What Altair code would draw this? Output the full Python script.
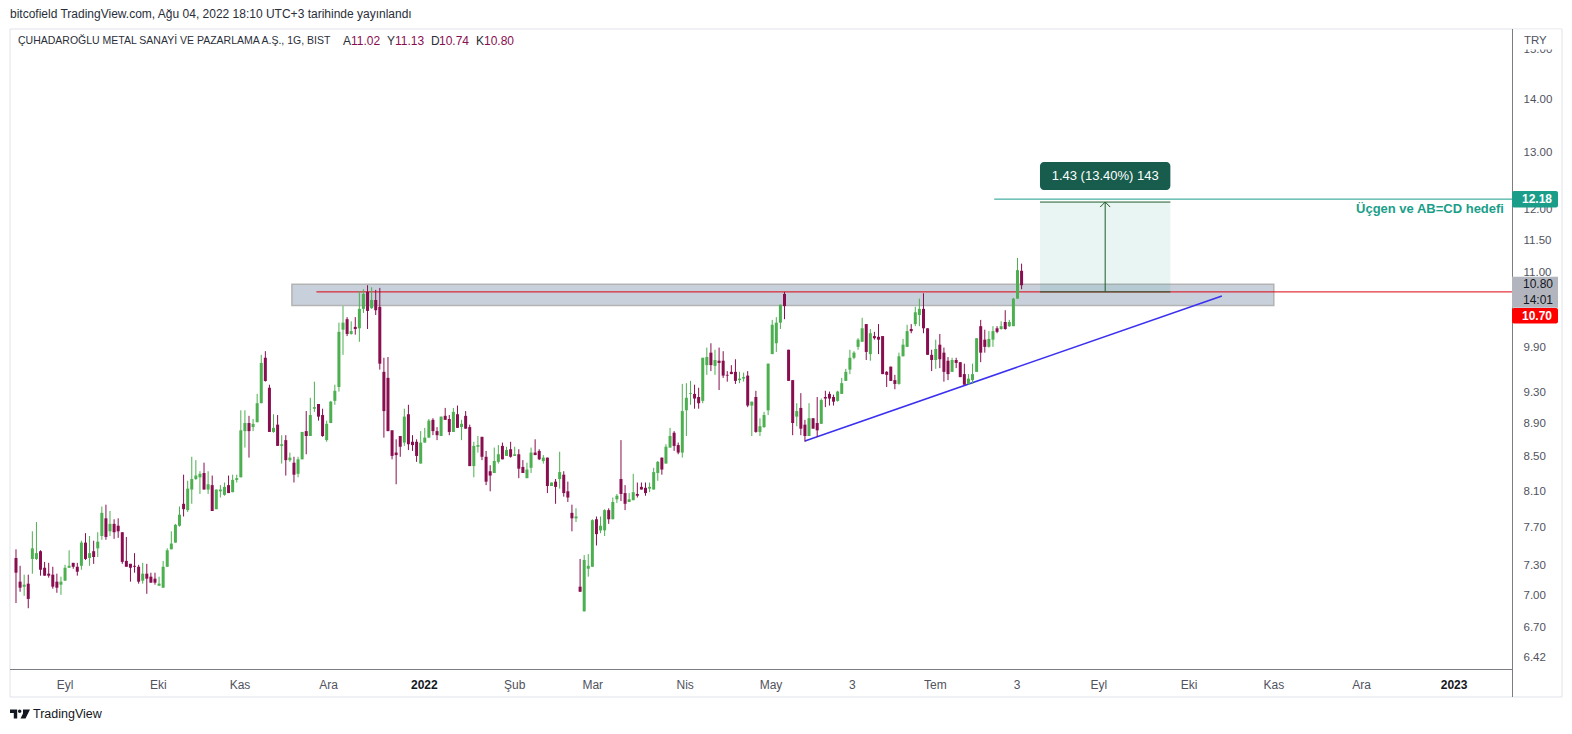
import altair as alt
import pandas as pd

# ---------------- data ----------------
opens = [7.38, 7.14, 7.09, 7.12, 7.37, 7.37, 7.45, 7.28, 7.22, 7.21,
         7.14, 7.11, 7.15, 7.28, 7.33, 7.29, 7.30, 7.54, 7.38, 7.45,
         7.48, 7.61, 7.80, 7.66, 7.74, 7.72, 7.65, 7.35, 7.32, 7.30,
         7.29, 7.15, 7.22, 7.19, 7.17, 7.10, 7.08, 7.29, 7.47, 7.54,
         7.72, 7.96, 7.89, 8.12, 8.24, 8.26, 8.31, 8.12, 8.17, 7.90,
         8.10, 8.06, 8.17, 8.09, 8.23, 8.26, 8.81, 8.91, 8.86, 8.92,
         9.16, 9.76, 9.36, 8.80, 8.89, 8.63, 8.70, 8.46, 8.43, 8.30,
         8.47, 8.81, 8.75, 9.09, 9.15, 9.01, 8.70, 8.91, 9.19, 9.37,
         10.15, 10.30, 10.09, 10.19, 10.17, 10.45, 10.70, 10.46, 10.58, 10.48,
         9.57, 9.49, 8.82, 8.55, 8.75, 8.67, 9.02, 8.68, 8.68, 8.42,
         8.67, 8.73, 8.95, 8.81, 8.75, 9.00, 8.96, 8.80, 9.02, 8.86,
         9.00, 8.86, 8.39, 8.62, 8.74, 8.50, 8.33, 8.31, 8.44, 8.63,
         8.51, 8.59, 8.51, 8.53, 8.38, 8.25, 8.37, 8.55, 8.57, 8.45,
         8.49, 8.16, 8.21, 8.24, 8.29, 8.10, 7.86, 7.80, 7.09, 6.85,
         7.27, 7.29, 7.79, 7.67, 7.67, 7.89, 7.79, 8.01, 8.24, 8.08,
         7.98, 8.00, 8.07, 8.15, 8.14, 8.13, 8.12, 8.31, 8.49, 8.42,
         8.61, 8.79, 8.64, 8.55, 9.07, 9.28, 9.28, 9.24, 9.19, 9.66,
         9.83, 9.65, 9.72, 9.72, 9.53, 9.57, 9.57, 9.46, 9.48, 9.52,
         9.13, 9.24, 8.80, 8.86, 9.07, 9.81, 9.96, 10.25, 10.67, 9.87,
         9.46, 8.99, 9.10, 8.89, 8.75, 8.97, 8.91, 8.90, 9.24, 9.28,
         9.24, 9.19, 9.28, 9.45, 9.60, 9.76, 9.91, 9.98, 10.23, 9.81,
         10.06, 10.05, 10.06, 9.57, 9.64, 9.46, 9.41, 9.78, 9.91, 10.16,
         10.23, 10.36, 10.45, 10.17, 9.80, 9.73, 9.94, 9.83, 9.72, 9.57,
         9.73, 9.70, 9.54, 9.41, 9.46, 9.57, 10.20, 10.01, 9.91, 10.01,
         10.17, 10.16, 10.26, 10.20, 10.20, 10.60, 11.02]

highs = [7.47, 7.30, 7.21, 7.21, 7.66, 7.76, 7.46, 7.34, 7.33, 7.29,
         7.22, 7.19, 7.31, 7.46, 7.33, 7.33, 7.56, 7.64, 7.61, 7.56,
         7.65, 7.93, 7.95, 7.88, 7.79, 7.80, 7.65, 7.60, 7.32, 7.43,
         7.31, 7.33, 7.32, 7.23, 7.23, 7.19, 7.35, 7.48, 7.66, 7.74,
         7.93, 8.29, 8.22, 8.50, 8.46, 8.33, 8.43, 8.33, 8.28, 8.12,
         8.17, 8.20, 8.28, 8.29, 8.29, 9.07, 9.07, 9.00, 8.96, 9.28,
         9.80, 9.85, 9.40, 9.02, 9.01, 8.76, 8.76, 8.55, 8.50, 8.50,
         8.80, 9.06, 9.23, 9.44, 9.15, 9.09, 8.94, 9.19, 9.40, 10.25,
         10.49, 10.33, 10.27, 10.33, 10.71, 10.74, 10.80, 10.77, 10.73, 10.76,
         9.76, 9.77, 8.82, 8.71, 8.75, 9.09, 9.14, 8.76, 8.71, 8.81,
         8.85, 8.96, 8.97, 8.86, 8.99, 9.10, 9.01, 9.10, 9.13, 8.95,
         9.06, 8.89, 8.68, 8.75, 8.74, 8.57, 8.40, 8.61, 8.64, 8.67,
         8.62, 8.68, 8.62, 8.59, 8.46, 8.43, 8.61, 8.71, 8.59, 8.52,
         8.49, 8.20, 8.24, 8.56, 8.33, 8.21, 7.95, 7.91, 7.37, 7.41,
         7.42, 7.79, 7.82, 7.82, 7.90, 7.91, 8.03, 8.07, 8.70, 8.17,
         8.08, 8.30, 8.20, 8.20, 8.20, 8.20, 8.37, 8.45, 8.49, 8.65,
         8.85, 8.81, 8.67, 9.41, 9.42, 9.45, 9.40, 9.36, 9.76, 9.90,
         9.96, 9.87, 9.90, 9.85, 9.58, 9.66, 9.74, 9.57, 9.56, 9.58,
         9.18, 9.32, 8.97, 9.05, 9.68, 10.29, 10.33, 10.51, 10.70, 9.87,
         9.46, 9.16, 9.29, 8.95, 9.16, 8.97, 9.24, 9.22, 9.32, 9.31,
         9.27, 9.32, 9.49, 9.61, 9.87, 9.85, 10.03, 10.32, 10.23, 10.16,
         10.12, 10.23, 10.06, 9.58, 9.64, 9.53, 9.83, 10.02, 10.22, 10.23,
         10.48, 10.60, 10.68, 10.17, 9.87, 10.01, 10.09, 9.90, 9.77, 9.76,
         9.76, 9.70, 9.68, 9.54, 9.68, 10.03, 10.29, 10.15, 10.13, 10.20,
         10.20, 10.27, 10.43, 10.29, 10.61, 11.22, 11.13]

lows = [6.93, 7.04, 7.00, 6.88, 7.22, 7.36, 7.20, 7.20, 7.18, 7.07,
        7.03, 7.01, 7.15, 7.28, 7.27, 7.20, 7.26, 7.36, 7.30, 7.32,
        7.39, 7.57, 7.57, 7.61, 7.58, 7.59, 7.32, 7.29, 7.14, 7.23,
        7.12, 7.12, 7.02, 7.13, 7.11, 7.10, 7.08, 7.29, 7.47, 7.54,
        7.71, 7.82, 7.87, 7.96, 8.23, 8.07, 8.12, 8.07, 7.88, 7.90,
        8.03, 8.05, 8.08, 8.09, 8.20, 8.26, 8.61, 8.49, 8.81, 8.92,
        9.16, 9.44, 8.80, 8.79, 8.63, 8.42, 8.28, 8.44, 8.20, 8.26,
        8.47, 8.53, 8.75, 9.05, 8.94, 8.74, 8.68, 8.91, 9.14, 9.31,
        9.80, 10.06, 10.08, 10.08, 9.98, 10.39, 10.16, 10.45, 10.36, 9.60,
        8.73, 8.81, 8.47, 8.18, 8.50, 8.63, 8.58, 8.57, 8.44, 8.42,
        8.67, 8.73, 8.76, 8.70, 8.75, 8.95, 8.76, 8.80, 8.85, 8.70,
        8.84, 8.39, 8.26, 8.55, 8.46, 8.17, 8.10, 8.31, 8.42, 8.47,
        8.51, 8.49, 8.51, 8.25, 8.31, 8.25, 8.31, 8.52, 8.46, 8.42,
        8.08, 8.16, 7.96, 8.13, 8.04, 7.98, 7.66, 7.76, 7.04, 6.85,
        7.19, 7.29, 7.51, 7.64, 7.61, 7.74, 7.79, 7.97, 7.99, 7.89,
        7.98, 8.00, 8.03, 8.12, 8.05, 8.09, 8.12, 8.22, 8.29, 8.42,
        8.61, 8.57, 8.53, 8.49, 8.75, 9.14, 9.09, 9.09, 9.16, 9.53,
        9.58, 9.53, 9.33, 9.49, 9.44, 9.54, 9.41, 9.42, 9.44, 9.11,
        8.75, 8.79, 8.75, 8.85, 9.01, 9.81, 9.84, 10.16, 10.30, 9.45,
        8.76, 8.87, 8.76, 8.68, 8.75, 8.84, 8.74, 8.90, 9.11, 9.13,
        9.13, 9.18, 9.28, 9.45, 9.54, 9.74, 9.87, 9.98, 9.73, 9.72,
        10.01, 9.81, 9.54, 9.37, 9.45, 9.34, 9.40, 9.78, 9.91, 10.10,
        10.20, 10.20, 10.10, 9.80, 9.58, 9.61, 9.62, 9.44, 9.46, 9.57,
        9.62, 9.50, 9.40, 9.40, 9.41, 9.57, 9.70, 9.83, 9.90, 9.91,
        10.10, 10.15, 10.15, 10.19, 10.20, 10.60, 10.74]

closes = [7.23, 7.08, 7.11, 6.97, 7.48, 7.43, 7.26, 7.20, 7.20, 7.09,
          7.08, 7.14, 7.28, 7.30, 7.29, 7.24, 7.54, 7.37, 7.43, 7.39,
          7.55, 7.86, 7.60, 7.74, 7.65, 7.66, 7.34, 7.29, 7.28, 7.29,
          7.14, 7.22, 7.17, 7.13, 7.13, 7.12, 7.29, 7.46, 7.53, 7.73,
          7.84, 7.90, 8.13, 8.24, 8.28, 8.30, 8.12, 8.18, 7.88, 8.12,
          8.12, 8.15, 8.08, 8.23, 8.25, 8.82, 8.91, 8.81, 8.90, 9.16,
          9.69, 9.45, 8.80, 8.85, 8.63, 8.65, 8.46, 8.49, 8.29, 8.47,
          8.80, 8.75, 9.01, 9.11, 8.99, 8.75, 8.90, 9.18, 9.32, 10.12,
          10.25, 10.09, 10.13, 10.16, 10.45, 10.67, 10.42, 10.58, 10.43, 9.68,
          9.06, 8.81, 8.51, 8.52, 8.62, 8.99, 8.65, 8.64, 8.51, 8.67,
          8.73, 8.94, 8.81, 8.76, 8.99, 8.95, 8.80, 9.05, 8.85, 8.90,
          8.84, 8.39, 8.63, 8.64, 8.50, 8.21, 8.28, 8.45, 8.53, 8.47,
          8.58, 8.50, 8.53, 8.36, 8.31, 8.35, 8.55, 8.52, 8.47, 8.49,
          8.16, 8.20, 8.15, 8.32, 8.08, 8.03, 7.80, 7.82, 7.04, 7.36,
          7.30, 7.78, 7.63, 7.72, 7.89, 7.79, 7.98, 8.05, 8.07, 7.96,
          8.01, 8.09, 8.05, 8.12, 8.08, 8.15, 8.32, 8.44, 8.35, 8.62,
          8.75, 8.63, 8.55, 9.06, 9.23, 9.29, 9.22, 9.16, 9.76, 9.77,
          9.66, 9.73, 9.69, 9.52, 9.52, 9.54, 9.45, 9.48, 9.50, 9.13,
          9.18, 8.80, 8.87, 9.01, 9.68, 10.22, 10.25, 10.51, 10.49, 9.45,
          8.91, 9.06, 8.84, 8.75, 8.97, 8.84, 8.82, 9.20, 9.22, 9.22,
          9.18, 9.31, 9.42, 9.57, 9.76, 9.83, 10.01, 10.17, 9.84, 10.10,
          10.03, 10.01, 9.54, 9.53, 9.45, 9.41, 9.78, 9.94, 10.13, 10.13,
          10.40, 10.45, 10.17, 9.80, 9.73, 9.88, 9.74, 9.57, 9.54, 9.73,
          9.69, 9.50, 9.40, 9.48, 9.54, 10.03, 9.83, 9.91, 10.02, 10.13,
          10.12, 10.20, 10.16, 10.26, 10.60, 11.03, 10.80]

# time axis labels (position = bar number) and price axis labels
tick_pos = [12.0, 34.8, 54.8, 76.5, 99.9, 122.0, 141.1, 163.7, 184.7, 204.6,
            224.9, 244.9, 264.9, 287.0, 307.7, 329.2, 351.8]
tick_labels = ["Eyl", "Eki", "Kas", "Ara", "2022", "Şub", "Mar", "Nis", "May", "3",
               "Tem", "3", "Eyl", "Eki", "Kas", "Ara", "2023"]
year_labels = ["2022", "2023"]
price_ticks = [15.0, 14.0, 13.0, 12.0, 11.5, 11.0, 9.9, 9.3, 8.9, 8.5, 8.1, 7.7, 7.3, 7.0, 6.7, 6.42]

# drawings
zone_bars = [67.5, 307.7]
zone_prices = [10.50, 10.815]
level_bar = 73.5
level_price = 10.70
trend_bars = [193.0, 295.0]
trend_prices = [8.69, 10.64]
target_bar = 239.3
target_price = 12.18
range_bars = [250.5, 282.4]
range_prices = [10.70, 12.13]
range_text = "1.43 (13.40%) 143"
target_text = "Üçgen ve AB=CD hedefi"

last_ohlc = [("A", "11.02"), ("Y", "11.13"), ("D", "10.74"), ("K", "10.80")]
last_price = 10.80
last_time = "14:01"

header_text = "bitcofield TradingView.com, Ağu 04, 2022 18:10 UTC+3 tarihinde yayınlandı"
legend_title = "ÇUHADAROĞLU METAL SANAYİ VE PAZARLAMA A.Ş., 1G, BIST"

# ---------------- styling ----------------
FONT = "Liberation Sans"
UP = "#4caf50"
DOWN = "#880e4f"
TEAL = "#1a9e8a"
DG = "#1e5b2a"
AXC = "#50535e"
TXT = "#2a2e39"
PW, PH = 1502, 640

xs = alt.Scale(domain=[-0.243, 364.75], nice=False, zero=False)
ys = alt.Scale(type="log", domain=[6.3204, 15.445], nice=False, zero=False)
yaxis = alt.Axis(orient="right", values=price_ticks, format=".2f", labelAlign="left",
                 labelBaseline="middle", labelPadding=11, ticks=False, domain=False,
                 grid=False, labelFont=FONT, labelFontSize=11.5, labelColor=AXC,
                 labelOverlap=False, labelFlush=False, title=None, zindex=0)


def X(f):
    return alt.X(f, type="quantitative", scale=xs, axis=None)


def Y(f):
    return alt.Y(f, type="quantitative", scale=ys, axis=yaxis)


n = len(opens)
candles = pd.DataFrame({"i": list(range(n)), "open": opens, "high": highs,
                        "low": lows, "close": closes})
candles["dir"] = ["up" if c >= o else "down" for o, c in zip(opens, closes)]
ccol = alt.Color("dir:N", scale=alt.Scale(domain=["up", "down"], range=[UP, DOWN]), legend=None)

one = pd.DataFrame({"k": [0]})

frame = alt.Chart(one).mark_rect(fill="transparent", stroke="#e0e3eb", strokeWidth=1).encode(
    x=alt.value(0), x2=alt.value(1552), y=alt.value(0), y2=alt.value(668))

zone = alt.Chart(pd.DataFrame({"x": [zone_bars[0]], "x2": [zone_bars[1]],
                               "p": [zone_prices[0]], "p2": [zone_prices[1]]})).mark_rect(
    fill="#c7d0db", stroke="#b3b3b3", strokeWidth=1.5).encode(
    x=X("x"), x2="x2", y=Y("p"), y2="p2")

level = alt.Chart(pd.DataFrame({"x": [level_bar], "p": [level_price]})).mark_rule(
    color="#dd0010", strokeWidth=1).encode(x=X("x"), x2=alt.value(PW), y=Y("p"))

trend = alt.Chart(pd.DataFrame({"x": trend_bars, "p": trend_prices})).mark_line(
    color="#3b30f0", strokeWidth=1.5).encode(x=X("x"), y=Y("p"))

target = alt.Chart(pd.DataFrame({"x": [target_bar], "p": [target_price]})).mark_rule(
    color=TEAL, strokeWidth=1).encode(x=X("x"), x2=alt.value(PW), y=Y("p"))

rng_df = pd.DataFrame({"x": [range_bars[0]], "x2": [range_bars[1]],
                       "xc": [(range_bars[0] + range_bars[1]) / 2],
                       "lo": [range_prices[0]], "hi": [range_prices[1]], "t": [range_text]})
rng_box = alt.Chart(rng_df).mark_rect(fill=TEAL, fillOpacity=0.1).encode(
    x=X("x"), x2="x2", y=Y("lo"), y2="hi")
rng_edges = alt.Chart(pd.DataFrame({"x": [range_bars[0]] * 2, "x2": [range_bars[1]] * 2,
                                    "p": range_prices})).mark_rule(color=DG, strokeWidth=1).encode(
    x=X("x"), x2="x2", y=Y("p"))
rng_arrow = alt.Chart(rng_df).mark_rule(color=DG, strokeWidth=1).encode(
    x=X("xc"), y=Y("lo"), y2="hi")
rng_head = alt.Chart(rng_df).mark_point(shape="M-1,0.5L0,-0.5L1,0.5", filled=False, size=100,
                                        strokeWidth=1, color=DG, opacity=1, yOffset=2.5).encode(
    x=X("xc"), y=Y("hi"))
rng_label_box = alt.Chart(rng_df).mark_rect(fill="#175c4c", cornerRadius=4,
                                            yOffset=-40, y2Offset=-12).encode(
    x=X("x"), x2="x2", y=Y("hi"), y2="hi")
rng_label = alt.Chart(rng_df).mark_text(font=FONT, fontSize=13, color="white",
                                        baseline="middle", align="center", dy=-26).encode(
    x=X("xc"), y=Y("hi"), text="t:N")

target_label = alt.Chart(pd.DataFrame({"p": [target_price], "t": [target_text]})).mark_text(
    font=FONT, fontSize=13, fontWeight="bold", color=TEAL, align="right",
    baseline="middle", dy=10).encode(x=alt.value(1494), y=Y("p"), text="t:N")

wicks = alt.Chart(candles).mark_rule(strokeWidth=1, clip=True).encode(
    x=X("i"), y=Y("low"), y2="high", color=ccol)
bodies = alt.Chart(candles).mark_bar(width=3, clip=True, minBandSize=1).encode(
    x=X("i"), y=Y("open"), y2="close", color=ccol)

# separators of the time and price scales
sep_h = alt.Chart(one).mark_rule(color="#7a7d86", strokeWidth=1).encode(
    x=alt.value(0), x2=alt.value(PW), y=alt.value(PH + 0.5))
sep_v = alt.Chart(one).mark_rule(color="#7a7d86", strokeWidth=1).encode(
    x=alt.value(PW + 0.5), y=alt.value(0), y2=alt.value(668))

ticks_df = pd.DataFrame({"pos": tick_pos, "lab": tick_labels})
ticks_df["year"] = ticks_df["lab"].isin(year_labels)
xlab_norm = alt.Chart(ticks_df[~ticks_df["year"]]).mark_text(
    font=FONT, fontSize=12, color=AXC, baseline="middle", align="center").encode(
    x=X("pos"), y=alt.value(655.8), text="lab:N")
xlab_year = alt.Chart(ticks_df[ticks_df["year"]]).mark_text(
    font=FONT, fontSize=12, fontWeight="bold", color="#131722", baseline="middle",
    align="center").encode(x=X("pos"), y=alt.value(655.8), text="lab:N")

# price scale labels
tgt_df = pd.DataFrame({"p": [target_price], "t": ["%.2f" % target_price]})
tgt_box = alt.Chart(tgt_df).mark_rect(fill=TEAL, cornerRadius=2, yOffset=-8, y2Offset=8.3).encode(
    x=alt.value(PW), x2=alt.value(1548), y=Y("p"), y2="p")
tgt_txt = alt.Chart(tgt_df).mark_text(font=FONT, fontSize=12, fontWeight="bold", color="white",
                                      align="left", baseline="middle").encode(
    x=alt.value(1512), y=Y("p"), text="t:N")

last_df = pd.DataFrame({"p": [last_price], "t": ["%.2f" % last_price], "t2": [last_time]})
last_box = alt.Chart(last_df).mark_rect(fill="#b2b5be", yOffset=-8.5, y2Offset=22.5).encode(
    x=alt.value(PW), x2=alt.value(1548), y=Y("p"), y2="p")
last_txt = alt.Chart(last_df).mark_text(font=FONT, fontSize=12, color="#131722",
                                        align="left", baseline="middle", dy=-1).encode(
    x=alt.value(1513), y=Y("p"), text="t:N")
last_time_txt = alt.Chart(last_df).mark_text(font=FONT, fontSize=12, color="#131722",
                                             align="left", baseline="middle", dy=14.3).encode(
    x=alt.value(1513), y=Y("p"), text="t2:N")

lvl_df = pd.DataFrame({"p": [level_price], "t": ["%.2f" % level_price]})
lvl_box = alt.Chart(lvl_df).mark_rect(fill="#ff0000", cornerRadius=2, yOffset=16, y2Offset=31.7).encode(
    x=alt.value(PW), x2=alt.value(1548), y=Y("p"), y2="p")
lvl_txt = alt.Chart(lvl_df).mark_text(font=FONT, fontSize=12, fontWeight="bold", color="white",
                                      align="left", baseline="middle", dy=24).encode(
    x=alt.value(1512), y=Y("p"), text="t:N")

try_cover = alt.Chart(one).mark_rect(fill="white").encode(
    x=alt.value(PW + 1), x2=alt.value(1551), y=alt.value(0.5), y2=alt.value(20.5))
try_txt = alt.Chart(one).mark_text(text="TRY", font=FONT, fontSize=11.5, color=AXC,
                                   align="left", baseline="middle").encode(
    x=alt.value(1514), y=alt.value(12))

# header, legend, footer
header = alt.Chart(one).mark_text(text=header_text, font=FONT, fontSize=12, color=TXT,
                                  align="left", baseline="middle").encode(
    x=alt.value(0), y=alt.value(-15))
legend = alt.Chart(one).mark_text(text=legend_title, font=FONT, fontSize=10.5, color=TXT,
                                  align="left", baseline="middle").encode(
    x=alt.value(8), y=alt.value(12))
leg_x = [333, 377, 421, 466]
leg_layers = []
for (lab, val), lx in zip(last_ohlc, leg_x):
    leg_layers.append(alt.Chart(one).mark_text(text=lab, font=FONT, fontSize=12, color=TXT,
                                               align="left", baseline="middle").encode(
        x=alt.value(lx), y=alt.value(12)))
    leg_layers.append(alt.Chart(one).mark_text(text=val, font=FONT, fontSize=12, color=DOWN,
                                               align="left", baseline="middle").encode(
        x=alt.value(lx + 8), y=alt.value(12)))

logo = alt.Chart(one).mark_point(
    shape="M-1,-0.45H-0.28V0.45H-0.62V-0.1H-1Z M-0.2,-0.27A0.17,0.17 0 1 0 0.14,-0.27A0.17,0.17 0 1 0 -0.2,-0.27Z M0.3,-0.45H1L0.55,0.45H0.05L0.3,-0.05Z",
    filled=True, size=400, color="#131722", opacity=1).encode(
    x=alt.value(10), y=alt.value(685))
footer = alt.Chart(one).mark_text(text="TradingView", font=FONT, fontSize=12.5, color="#131722",
                                  align="left", baseline="middle").encode(
    x=alt.value(23), y=alt.value(685))

layers = [frame, zone, level, trend, target, rng_box, wicks, bodies, rng_edges, rng_arrow,
          rng_head, rng_label_box, rng_label, target_label, sep_h, sep_v, xlab_norm, xlab_year,
          tgt_box, tgt_txt, last_box, last_txt, last_time_txt, lvl_box, lvl_txt,
          try_cover, try_txt, header, legend] + leg_layers + [logo, footer]

chart = alt.layer(*layers).properties(
    width=PW, height=PH,
    autosize=alt.AutoSizeParams(type="none"),
    padding={"left": 10, "top": 29, "right": 60, "bottom": 65},
    background="white",
).configure_view(strokeWidth=0)

chart.save("out.html", embed_options={"renderer": "svg", "actions": False})
